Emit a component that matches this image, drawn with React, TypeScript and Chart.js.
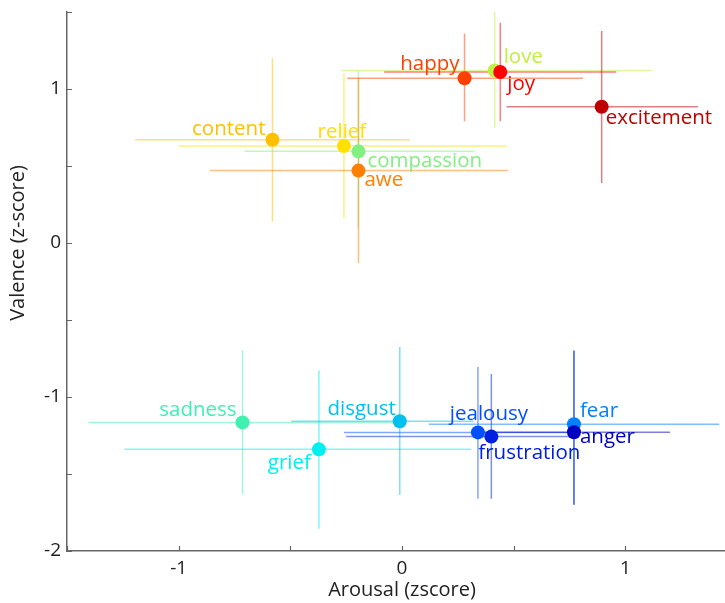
import React, { useEffect, useRef } from "react";
import { Chart, registerables } from "chart.js";

Chart.register(...registerables);

const emotions = ["content", "relief", "compassion", "awe", "happy", "love", "joy", "excitement", "sadness", "grief", "disgust", "jealousy", "frustration", "fear", "anger"];
const arousal = [-0.58, -0.26, -0.195, -0.195, 0.28, 0.415, 0.44, 0.894, -0.714, -0.372, -0.01, 0.34, 0.4, 0.77, 0.77];
const valence = [0.67, 0.63, 0.595, 0.47, 1.07, 1.12, 1.11, 0.885, -1.165, -1.34, -1.157, -1.23, -1.257, -1.177, -1.229];
const arousalLow = [-1.195, -1.0, -0.705, -0.86, -0.245, -0.27, -0.08, 0.468, -1.403, -1.242, -0.495, -0.26, -0.25, 0.12, 0.31];
const arousalHigh = [0.035, 0.47, 0.325, 0.475, 0.81, 1.12, 0.96, 1.325, -0.02, 0.31, 0.32, 0.78, 0.76, 1.42, 1.2];
const valenceLow = [0.14, 0.16, 0.1, -0.13, 0.79, 0.75, 0.79, 0.39, -1.63, -1.855, -1.637, -1.66, -1.66, -1.7, -1.7];
const valenceHigh = [1.2, 1.1, 1.12, 1.07, 1.36, 1.5, 1.43, 1.376, -0.698, -0.826, -0.676, -0.805, -0.85, -0.696, -0.7];
const colors = ["#FFC000", "#FFE000", "#80F080", "#FF8000", "#FF4000", "#C0F040", "#FF0000", "#C00000", "#40F0B0", "#00F0F0", "#00C0F0", "#0050FF", "#0020E0", "#0080FF", "#0000C0"];
const xTickValues = [-1.5, -1, -0.5, 0, 0.5, 1, 1.5];
const yTickValues = [-2, -1.5, -1, -0.5, 0, 0.5, 1, 1.5];

// label layout (pixel offsets from the dot)
const labelAlign = ["right", "center", "left", "left", "right", "left", "left", "left", "right", "right", "right", "center", "left", "left", "left"];
const labelDx = [-7, -2, 9, 6, -5, 9, 7, 4, -6, -8, -4, 11, -13, 6, 6];
const labelDy = [-11, -14, 10, 10, -14, -13, 12, 11, -12, 14, -12, -18, 17, -13, 5];

const FONT = "'Open Sans', sans-serif";

function withAlpha(hex: string, a: number) {
  const r = parseInt(hex.slice(1, 3), 16);
  const g = parseInt(hex.slice(3, 5), 16);
  const b = parseInt(hex.slice(5, 7), 16);
  return `rgba(${r},${g},${b},${a})`;
}

const overlay = {
  id: "overlay",
  beforeDatasetsDraw(chart: any) {
    const { ctx, scales } = chart;
    const x = scales.x, y = scales.y;
    ctx.save();
    ctx.lineWidth = 1.5;
    for (let i = 0; i < emotions.length; i++) {
      ctx.strokeStyle = withAlpha(colors[i], 0.5);
      const px = x.getPixelForValue(arousal[i]);
      const py = y.getPixelForValue(valence[i]);
      ctx.beginPath();
      ctx.moveTo(x.getPixelForValue(arousalLow[i]), py);
      ctx.lineTo(x.getPixelForValue(arousalHigh[i]), py);
      ctx.moveTo(px, y.getPixelForValue(valenceLow[i]));
      ctx.lineTo(px, y.getPixelForValue(valenceHigh[i]));
      ctx.stroke();
    }
    ctx.restore();
  },
  afterDraw(chart: any) {
    const { ctx, scales, chartArea } = chart;
    const x = scales.x, y = scales.y;
    ctx.save();
    // inward ticks
    ctx.strokeStyle = "#666";
    ctx.lineWidth = 1.2;
    ctx.beginPath();
    for (const v of xTickValues) {
      const px = Math.round(x.getPixelForValue(v)) + 0.5;
      ctx.moveTo(px, chartArea.bottom);
      ctx.lineTo(px, chartArea.bottom - 5);
    }
    for (const v of yTickValues) {
      const py = Math.round(y.getPixelForValue(v)) + 0.5;
      ctx.moveTo(chartArea.left, py);
      ctx.lineTo(chartArea.left + 5, py);
    }
    ctx.stroke();
    // labels
    ctx.font = `20.5px ${FONT}`;
    ctx.textBaseline = "middle";
    for (let i = 0; i < emotions.length; i++) {
      ctx.fillStyle = colors[i];
      ctx.textAlign = labelAlign[i] as CanvasTextAlign;
      ctx.fillText(emotions[i], x.getPixelForValue(arousal[i]) + labelDx[i], y.getPixelForValue(valence[i]) + labelDy[i]);
    }
    // axis titles
    ctx.fillStyle = "#222";
    ctx.font = `20px ${FONT}`;
    ctx.textAlign = "center";
    ctx.fillText("Arousal (zscore)", x.getPixelForValue(0), 590);
    ctx.translate(18, y.getPixelForValue(0));
    ctx.rotate(-Math.PI / 2);
    ctx.fillText("Valence (z-score)", 0, 0);
    ctx.restore();
  },
};

export default function App() {
  const ref = useRef<HTMLCanvasElement | null>(null);
  useEffect(() => {
    if (!ref.current) return;
    const chart = new Chart(ref.current, {
      type: "scatter",
      data: {
        datasets: [
          {
            data: arousal.map((a, i) => ({ x: a, y: valence[i] })),
            pointBackgroundColor: colors,
            pointBorderWidth: 0,
            pointRadius: 7,
            pointHoverRadius: 7,
          },
        ],
      },
      options: {
        animation: false,
        responsive: false,
        events: [],
        layout: { padding: { top: 12, right: 1, left: 0, bottom: 0 } },
        plugins: { legend: { display: false }, tooltip: { enabled: false } },
        scales: {
          x: {
            type: "linear",
            min: -1.5,
            max: 1.5,
            afterFit: (s: any) => { s.height = 52; },
            grid: { display: false, drawTicks: false },
            border: { display: true, color: "#666", width: 1.5 },
            ticks: {
              stepSize: 0.5,
              padding: 6,
              color: "#222",
              font: { family: FONT, size: 19 },
              callback: (v: any) => (Number.isInteger(Number(v)) ? String(v) : ""),
            },
          },
          y: {
            type: "linear",
            min: -2,
            max: 1.5,
            afterFit: (s: any) => { s.width = 67; },
            grid: { display: false, drawTicks: false },
            border: { display: true, color: "#666", width: 1.5 },
            ticks: {
              stepSize: 0.5,
              padding: 6,
              color: "#222",
              font: { family: FONT, size: 19, lineHeight: 0.5 },
              callback: (v: any) => (Number.isInteger(Number(v)) ? String(v) : ""),
            },
          },
        },
      },
      plugins: [overlay],
    });
    return () => chart.destroy();
  }, []);
  return (
    <div style={{ position: "absolute", left: 0, top: 0, width: 725, height: 603, overflow: "hidden", background: "#fff" }}>
      <canvas ref={ref} width={744} height={603} style={{ width: 744, height: 603, display: "block" }} />
    </div>
  );
}
